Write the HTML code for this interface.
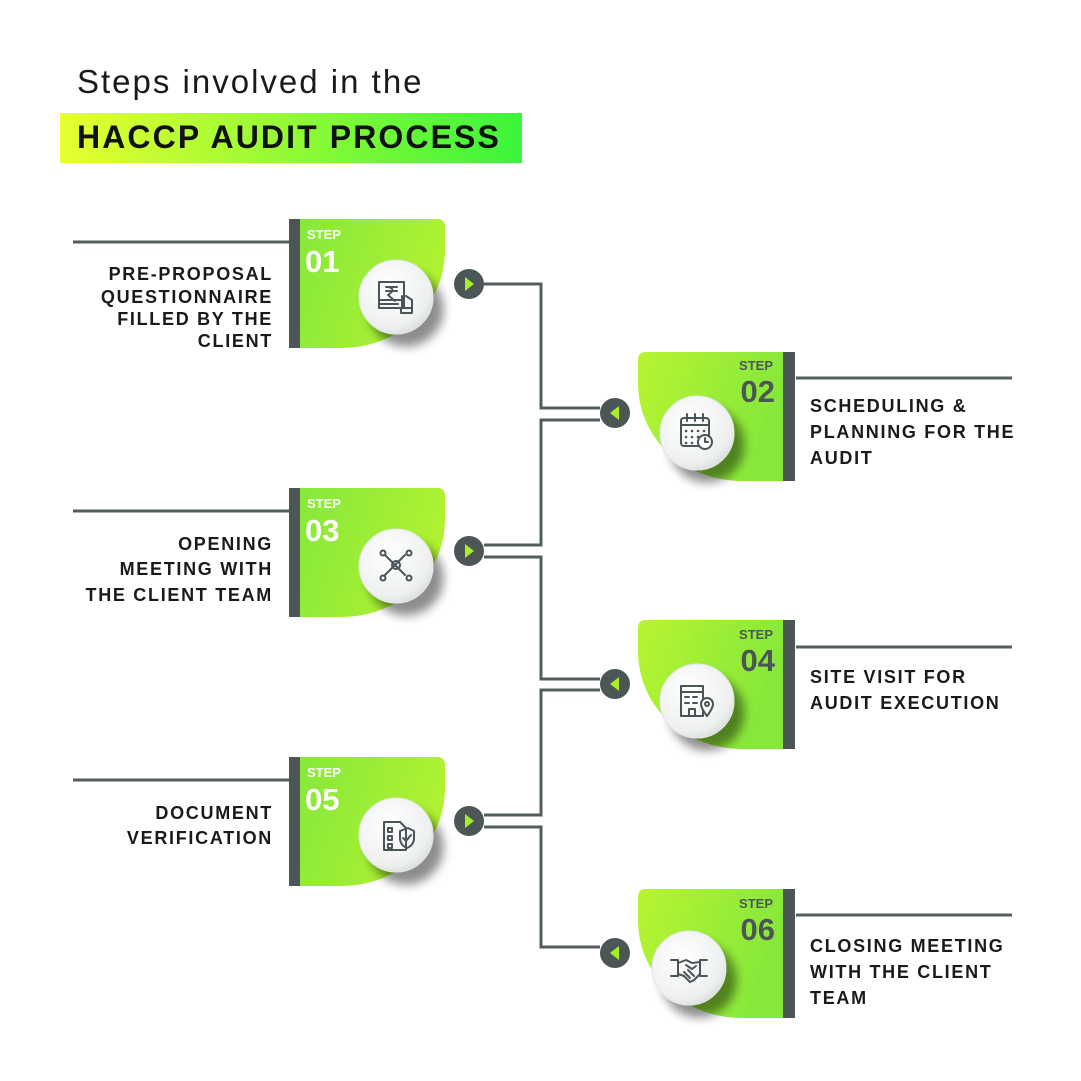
<!DOCTYPE html>
<html><head><meta charset="utf-8"><style>
html,body{margin:0;padding:0;background:#fff;}
svg{display:block}
text{font-family:"Liberation Sans",sans-serif;}
.lbl{font-weight:bold;font-size:18px;fill:#1a1a1a;letter-spacing:1.7px}
.st{font-weight:bold;font-size:13px}
.num{font-size:31px;font-weight:bold}
.ln{stroke:#535d5e;stroke-width:3;fill:none}
.ic{stroke:#4a5558;stroke-width:2;fill:none;stroke-linecap:round;stroke-linejoin:round}
</style></head><body>
<svg width="1081" height="1081" viewBox="0 0 1081 1081" xmlns="http://www.w3.org/2000/svg">
<defs>
<linearGradient id="ban" x1="0" x2="1"><stop offset="0" stop-color="#e8ff30"/><stop offset="1" stop-color="#3af53a"/></linearGradient>
<linearGradient id="gl" x1="0" y1="0" x2="1" y2="0.3"><stop offset="0" stop-color="#86e83a"/><stop offset="1" stop-color="#b0f232"/></linearGradient>
<linearGradient id="gr" x1="0" y1="0" x2="1" y2="0.3"><stop offset="0" stop-color="#b8f432"/><stop offset="1" stop-color="#86e83a"/></linearGradient>
<radialGradient id="cg" cx="0.4" cy="0.35" r="0.7"><stop offset="0" stop-color="#ffffff"/><stop offset="0.8" stop-color="#eef0f0"/><stop offset="1" stop-color="#d9dcdc"/></radialGradient>
<filter id="sh" x="-50%" y="-50%" width="200%" height="200%"><feGaussianBlur in="SourceAlpha" stdDeviation="5"/><feOffset dx="10" dy="12"/><feComponentTransfer><feFuncA type="linear" slope="0.45"/></feComponentTransfer><feMerge><feMergeNode/><feMergeNode in="SourceGraphic"/></feMerge></filter>
</defs>

<text x="77" y="93" font-size="33" fill="#1a1a1a" style="letter-spacing:2px">Steps involved in the</text>
<rect x="60" y="113" width="462" height="50" fill="url(#ban)"/>
<text x="77" y="148" font-size="32" font-weight="bold" fill="#111" style="letter-spacing:2.1px">HACCP AUDIT PROCESS</text>

<path class="ln" d="M484,284 H541 V408 H600"/>
<path class="ln" d="M600,420 H541 V545 H484"/>
<path class="ln" d="M484,557 H541 V679 H600"/>
<path class="ln" d="M600,690 H541 V815 H484"/>
<path class="ln" d="M484,827 H541 V947 H600"/>

<g class="ln">
<path d="M73,242 H289"/><path d="M73,511 H289"/><path d="M73,780 H289"/>
<path d="M796,378 H1012"/><path d="M796,647 H1012"/><path d="M796,915 H1012"/>
</g>

<g>
<path d="M300,219 H437 Q445,219 445,227 V250 C445,305 400,348 340,348 H300 Z" fill="url(#gl)"/>
<rect x="289" y="219" width="11" height="129" fill="#4c5657"/>
</g>
<g>
<path d="M300,488 H437 Q445,488 445,496 V519 C445,574 400,617 340,617 H300 Z" fill="url(#gl)"/>
<rect x="289" y="488" width="11" height="129" fill="#4c5657"/>
</g>
<g>
<path d="M300,757 H437 Q445,757 445,765 V788 C445,843 400,886 340,886 H300 Z" fill="url(#gl)"/>
<rect x="289" y="757" width="11" height="129" fill="#4c5657"/>
</g>
<g>
<path d="M783,352 H646 Q638,352 638,360 V383 C638,438 683,481 743,481 H783 Z" fill="url(#gr)"/>
<rect x="783" y="352" width="12" height="129" fill="#4c5657"/>
</g>
<g>
<path d="M783,620 H646 Q638,620 638,628 V651 C638,706 683,749 743,749 H783 Z" fill="url(#gr)"/>
<rect x="783" y="620" width="12" height="129" fill="#4c5657"/>
</g>
<g>
<path d="M783,889 H646 Q638,889 638,897 V920 C638,975 683,1018 743,1018 H783 Z" fill="url(#gr)"/>
<rect x="783" y="889" width="12" height="129" fill="#4c5657"/>
</g>

<g fill="#fff">
<text class="st" x="307" y="239">STEP</text><text class="num" x="305" y="272">01</text>
<text class="st" x="307" y="508">STEP</text><text class="num" x="305" y="541">03</text>
<text class="st" x="307" y="777">STEP</text><text class="num" x="305" y="810">05</text>
</g>
<g fill="#4c5657" text-anchor="end">
<text class="st" x="773" y="370">STEP</text><text class="num" x="775" y="402">02</text>
<text class="st" x="773" y="639">STEP</text><text class="num" x="775" y="671">04</text>
<text class="st" x="773" y="908">STEP</text><text class="num" x="775" y="940">06</text>
</g>

<g filter="url(#sh)" fill="url(#cg)" stroke="#e2e5e5" stroke-width="1">
<circle cx="396" cy="297" r="37"/>
<circle cx="396" cy="566" r="37"/>
<circle cx="396" cy="835" r="37"/>
<circle cx="697" cy="433" r="37"/>
<circle cx="697" cy="701" r="37"/>
<circle cx="689" cy="968" r="37"/>
</g>

<g class="ic">
<rect x="379" y="282" width="25" height="26"/><path d="M379,300 H404 M379,304 H398"/>
<path d="M386,287 H397 M386,291 H397 M388,287 Q397,289 388,295 L395,301"/>
<path d="M402,296 V308 H412 V300 L406,296"/><rect x="401" y="308" width="11" height="5"/>
<path d="M385,555 L405,575 M405,555 L385,575"/><circle cx="396" cy="565" r="4"/>
<circle cx="383" cy="553" r="2.5"/><circle cx="409" cy="553" r="2.5"/><circle cx="383" cy="578" r="2.5"/><circle cx="409" cy="578" r="2.5"/>
<path d="M384,822 H400 L406,828 V850 H384 Z"/>
<rect x="388" y="828" width="4" height="4"/><rect x="388" y="836" width="4" height="4"/><rect x="388" y="844" width="4" height="4"/>
<path d="M400,831 L408,828 L414,831 V838 Q414,845 407,848 Q400,845 400,838 Z"/><path d="M403,838 L406,841 L411,835"/>
<rect x="681" y="418" width="28" height="28" rx="3"/><path d="M681,425 H709 M687,414 V421 M695,414 V421 M703,414 V421"/>
<g stroke-width="2.5"><path d="M686,431 h.1 M692,431 h.1 M698,431 h.1 M704,431 h.1 M686,437 h.1 M692,437 h.1 M698,437 h.1 M686,443 h.1 M692,443 h.1"/></g>
<circle cx="705" cy="442" r="7" fill="#fff"/><path d="M705,438 V442 H708"/>
<rect x="681" y="686" width="22" height="30"/><path d="M681,692 H703"/>
<path d="M685,697 h4 M693,697 h4 M685,703 h4 M693,703 h4 M689,716 v-7 h6 v7"/>
<path d="M707,716 Q701,708 701,704 A6,6 0 0 1 713,704 Q713,708 707,716 Z" fill="#fff"/><circle cx="707" cy="704" r="2"/>
<path d="M671,960 H678 V976 H671 M707,960 H700 V976 H707"/>
<path d="M678,963 L686,960 L692,963 L700,962 M678,974 L684,976 L690,982 L694,980 L698,976 L700,974 M686,965 L692,969 L696,966 M684,972 L690,978 M688,970 L694,976"/>
</g>

<g fill="#4c5657">
<circle cx="469" cy="284" r="15"/><circle cx="469" cy="551" r="15"/><circle cx="469" cy="821" r="15"/>
<circle cx="615" cy="413" r="15"/><circle cx="615" cy="684" r="15"/><circle cx="615" cy="953" r="15"/>
</g>
<g fill="#a6ee2a">
<path d="M465,277 L474,284 L465,291 Z"/><path d="M465,544 L474,551 L465,558 Z"/><path d="M465,814 L474,821 L465,828 Z"/>
<path d="M619,406 L610,413 L619,420 Z"/><path d="M619,677 L610,684 L619,691 Z"/><path d="M619,946 L610,953 L619,960 Z"/>
</g>

<g text-anchor="end">
<text class="lbl" x="273" y="280">PRE-PROPOSAL</text>
<text class="lbl" x="273" y="303">QUESTIONNAIRE</text>
<text class="lbl" x="273" y="325">FILLED BY THE</text>
<text class="lbl" x="273" y="347">CLIENT</text>
<text class="lbl" x="273" y="550">OPENING</text>
<text class="lbl" x="273" y="575">MEETING WITH</text>
<text class="lbl" x="273" y="601">THE CLIENT TEAM</text>
<text class="lbl" x="273" y="819">DOCUMENT</text>
<text class="lbl" x="273" y="844">VERIFICATION</text>
</g>
<g>
<text class="lbl" x="810" y="412">SCHEDULING &amp;</text>
<text class="lbl" x="810" y="438">PLANNING FOR THE</text>
<text class="lbl" x="810" y="464">AUDIT</text>
<text class="lbl" x="810" y="683">SITE VISIT FOR</text>
<text class="lbl" x="810" y="709">AUDIT EXECUTION</text>
<text class="lbl" x="810" y="952">CLOSING MEETING</text>
<text class="lbl" x="810" y="978">WITH THE CLIENT</text>
<text class="lbl" x="810" y="1004">TEAM</text>
</g>
</svg>
</body></html>
